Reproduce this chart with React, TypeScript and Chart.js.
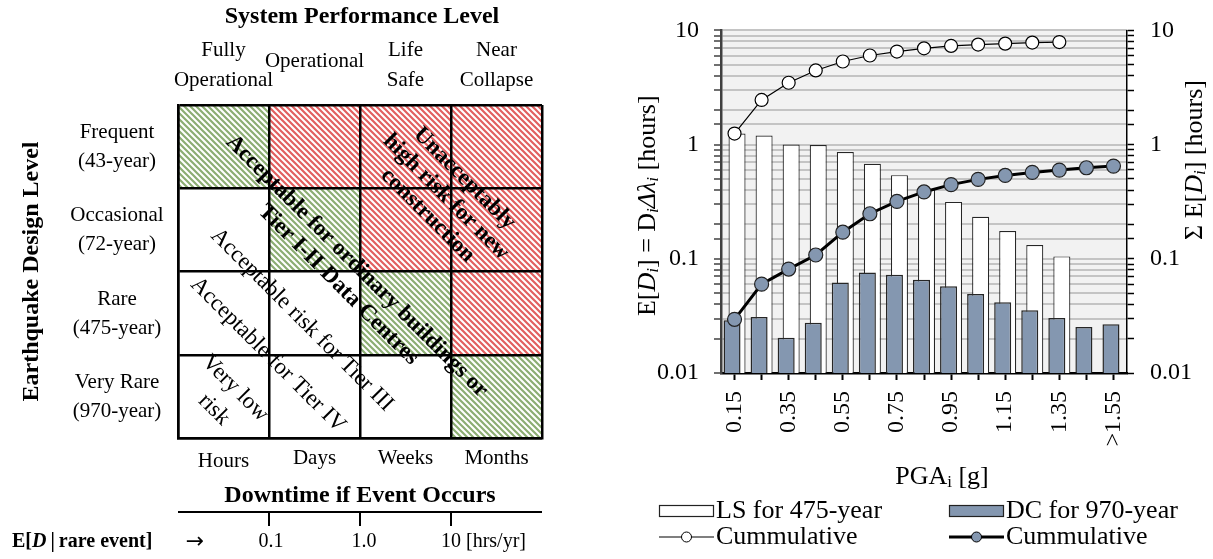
import React, { useEffect, useRef } from 'react';
import { Chart, registerables } from 'chart.js';
Chart.register(...registerables);

const SERIF = '"Liberation Serif", "Times New Roman", serif';

// ---------------- Right chart data ----------------
const pgaLabels = ['0.15', '0.25', '0.35', '0.45', '0.55', '0.65', '0.75', '0.85', '0.95', '1.05', '1.15', '1.25', '1.35', '1.45', '>1.55'];
const lsValues = [1.25, 1.2, 1.0, 0.99, 0.86, 0.68, 0.54, 0.41, 0.315, 0.233, 0.175, 0.132, 0.105, null, null];
const dcValues = [0.029, 0.031, 0.0204, 0.0276, 0.062, 0.076, 0.0726, 0.0657, 0.0574, 0.0493, 0.0417, 0.0355, 0.0303, 0.0253, 0.0267];
const lsCumulative = [1.25, 2.46, 3.48, 4.46, 5.34, 6.03, 6.53, 6.97, 7.31, 7.51, 7.66, 7.82, 7.91];
const dcCumulative = [0.0295, 0.06, 0.0813, 0.108, 0.171, 0.248, 0.318, 0.385, 0.446, 0.496, 0.537, 0.571, 0.598, 0.627, 0.648];
const yMajorTicks = [0.01, 0.1, 1, 10];
const yMajorLabels = ['0.01', '0.1', '1', '10'];
const legendLabels = ['LS for 475-year', 'DC for 970-year', 'Cummulative', 'Cummulative'];

// ---------------- Left matrix data ----------------
const performanceLevels = [['Fully', 'Operational'], ['Operational'], ['Life', 'Safe'], ['Near', 'Collapse']];
const designLevels = [['Frequent', '(43-year)'], ['Occasional', '(72-year)'], ['Rare', '(475-year)'], ['Very Rare', '(970-year)']];
const downtimeLabels = ['Hours', 'Days', 'Weeks', 'Months'];
// G = acceptable (green hatch), R = unacceptable (red hatch), W = white
const riskGrid = [
  ['G', 'R', 'R', 'R'],
  ['W', 'G', 'R', 'R'],
  ['W', 'W', 'G', 'R'],
  ['W', 'W', 'W', 'G'],
];
const expectedDowntimeTicks = ['0.1', '1.0', '10'];
const zoneOrdinary = ['Acceptable for ordinary buildings or', 'Tier I-II Data Centres'];
const zoneUnacceptable = ['Unacceptably', 'high risk for new', 'construction'];
const zoneTier3 = ['Acceptable risk for Tier III'];
const zoneTier4 = ['Acceptable for Tier IV'];
const zoneVeryLow = ['Very low', 'risk'];

type Seg = { t: string; f: string; dy?: number };

function drawRich(ctx: CanvasRenderingContext2D, segs: Seg[], x: number, y: number, align: 'left' | 'center' | 'right', rot = 0) {
  ctx.save();
  ctx.translate(x, y);
  ctx.rotate(rot);
  ctx.textBaseline = 'middle';
  ctx.textAlign = 'left';
  ctx.fillStyle = '#000';
  let w = 0;
  for (const s of segs) { ctx.font = s.f; w += ctx.measureText(s.t).width; }
  let cx = align === 'left' ? 0 : align === 'center' ? -w / 2 : -w;
  for (const s of segs) {
    ctx.font = s.f;
    ctx.fillText(s.t, cx, s.dy || 0);
    cx += ctx.measureText(s.t).width;
  }
  ctx.restore();
}

function drawBlock(ctx: CanvasRenderingContext2D, lines: string[], x: number, y: number, font: string, lh: number, rot: number) {
  ctx.save();
  ctx.translate(x, y);
  ctx.rotate(rot);
  ctx.font = font;
  ctx.fillStyle = '#000';
  ctx.textAlign = 'center';
  ctx.textBaseline = 'middle';
  lines.forEach((l, i) => ctx.fillText(l, 0, (i - (lines.length - 1) / 2) * lh));
  ctx.restore();
}

function makeHatch(color: string): CanvasPattern | string {
  const s = 6;
  const c = document.createElement('canvas');
  c.width = s; c.height = s;
  const g = c.getContext('2d');
  if (!g) return '#fff';
  g.fillStyle = '#ffffff';
  g.fillRect(0, 0, s, s);
  g.strokeStyle = color;
  g.lineWidth = 2.2;
  g.beginPath();
  for (let k = -1; k <= 1; k++) {
    g.moveTo(-1, -1 + k * s);
    g.lineTo(s + 1, s + 1 + k * s);
  }
  g.stroke();
  const p = g.createPattern(c, 'repeat');
  return p || '#fff';
}

function isMajor(v: number) {
  const l = Math.log10(v);
  return Math.abs(l - Math.round(l)) < 1e-6;
}

export default function App() {
  const leftRef = useRef<HTMLCanvasElement>(null);
  const rightRef = useRef<HTMLCanvasElement>(null);

  useEffect(() => {
    const green = makeHatch('#8cad73');
    const red = makeHatch('#e25f5f');
    const fillFor = (k: string) => (k === 'G' ? green : k === 'R' ? red : '#ffffff');

    // ---------- Left: risk matrix ----------
    const leftDecor = {
      id: 'leftDecor',
      afterDraw(chart: any) {
        const ctx: CanvasRenderingContext2D = chart.ctx;
        const xs = chart.scales.x;
        const ys = chart.scales.y;
        const px = (u: number) => xs.getPixelForValue(u);
        const py = (r: number) => ys.getPixelForValue(r - 0.5);
        const a = chart.chartArea;
        const reg = (n: number) => `${n}px ${SERIF}`;
        const bold = (n: number) => `bold ${n}px ${SERIF}`;
        const rot = Math.PI / 4;

        // Title top
        drawRich(ctx, [{ t: 'System Performance Level', f: bold(24) }], (a.left + a.right) / 2 + 2, 17, 'center');
        // Column headers
        performanceLevels.forEach((lines, c) => {
          const x = px(c + 0.5);
          if (lines.length === 2) {
            drawRich(ctx, [{ t: lines[0], f: reg(21) }], x, 50, 'center');
            drawRich(ctx, [{ t: lines[1], f: reg(21) }], x, 80, 'center');
          } else {
            drawRich(ctx, [{ t: lines[0], f: reg(21) }], x, 61, 'center');
          }
        });
        // Row headers
        designLevels.forEach((lines, r) => {
          const y = py(r + 0.5);
          drawRich(ctx, [{ t: lines[0], f: reg(21) }], 117, y - 14, 'center');
          drawRich(ctx, [{ t: lines[1], f: reg(21) }], 117, y + 15, 'center');
        });
        // Y title
        drawRich(ctx, [{ t: 'Earthquake Design Level', f: bold(24) }], 32, (a.top + a.bottom) / 2, 'center', -Math.PI / 2);
        // Downtime labels
        downtimeLabels.forEach((t, c) => {
          drawRich(ctx, [{ t, f: reg(21) }], px(c + 0.5), c === 0 ? a.bottom + 23 : a.bottom + 20, 'center');
        });
        drawRich(ctx, [{ t: 'Downtime if Event Occurs', f: bold(24) }], (a.left + a.right) / 2, a.bottom + 58, 'center');
        // E[D|rare event] axis
        const ly = a.bottom + 74;
        ctx.save();
        ctx.strokeStyle = '#000';
        ctx.lineWidth = 2;
        ctx.beginPath();
        ctx.moveTo(a.left, ly);
        ctx.lineTo(a.right, ly);
        for (let c = 1; c <= 3; c++) {
          ctx.moveTo(px(c), ly);
          ctx.lineTo(px(c), ly + 14);
        }
        ctx.stroke();
        ctx.restore();
        const ty = a.bottom + 104;
        drawRich(ctx, [
          { t: 'E[', f: bold(20) },
          { t: 'D', f: `italic bold 20px ${SERIF}` },
          { t: '\u2009|\u2009rare event]', f: bold(20) },
        ], 12, ty, 'left');
        drawRich(ctx, [{ t: '\u2192', f: '22px "DejaVu Sans", sans-serif' }], 195, ty, 'center');
        drawRich(ctx, [{ t: expectedDowntimeTicks[0], f: reg(20) }], px(1) + 2, ty, 'center');
        drawRich(ctx, [{ t: expectedDowntimeTicks[1], f: reg(20) }], px(2) + 4, ty, 'center');
        ctx.save();
        ctx.font = reg(20);
        const w10 = ctx.measureText(expectedDowntimeTicks[2]).width;
        ctx.restore();
        drawRich(ctx, [{ t: expectedDowntimeTicks[2] + ' [hrs/yr]', f: reg(20) }], px(3) - w10 / 2, ty, 'left');

        // Zone labels
        drawBlock(ctx, zoneOrdinary, px(1.863), py(2.048), bold(23), 26, rot);
        drawBlock(ctx, zoneUnacceptable, px(2.945), py(1.105), bold(23), 26, rot);
        drawBlock(ctx, zoneTier3, px(1.363), py(2.583), reg(23), 26, rot);
        drawBlock(ctx, zoneTier4, px(0.989), py(3.003), reg(23), 26, rot);
        drawBlock(ctx, zoneVeryLow, px(0.511), py(3.531), reg(23), 30, rot);
      },
    };

    const leftChart = new Chart(leftRef.current as HTMLCanvasElement, {
      type: 'bar',
      data: {
        labels: designLevels.map((l) => l.join(' ')),
        datasets: performanceLevels.map((lvl, c) => ({
          label: lvl.join(' '),
          data: designLevels.map(() => 1),
          backgroundColor: riskGrid.map((row) => fillFor(row[c])) as any,
          borderWidth: 0,
          barPercentage: 1,
          categoryPercentage: 1,
        })),
      },
      options: {
        indexAxis: 'y',
        responsive: false,
        animation: false,
        layout: { padding: { left: 178, top: 105, right: 78, bottom: 121 } },
        plugins: { legend: { display: false }, tooltip: { enabled: false } },
        scales: {
          x: {
            type: 'linear',
            stacked: true,
            min: 0,
            max: 4,
            ticks: { display: false, stepSize: 1 },
            grid: { color: '#000', lineWidth: 2.5, drawTicks: false, z: 1 },
            border: { display: true, color: '#000', width: 2.5, z: 2 },
            afterFit: (s: any) => { s.height = 0; },
          },
          y: {
            type: 'category',
            stacked: true,
            ticks: { display: false },
            grid: { color: '#000', lineWidth: 2.5, drawTicks: false, offset: true, z: 1 },
            border: { display: true, color: '#000', width: 2.5, z: 2 },
            afterFit: (s: any) => { s.width = 0; },
          },
        },
      } as any,
      plugins: [leftDecor],
    });

    // ---------- Right: bar + cumulative chart ----------
    const rightDecor = {
      id: 'rightDecor',
      beforeDraw(chart: any) {
        const { ctx, chartArea: a } = chart;
        ctx.save();
        ctx.fillStyle = '#f2f2f2';
        ctx.fillRect(a.left, a.top, a.right - a.left, a.bottom - a.top);
        ctx.restore();
      },
      afterDraw(chart: any) {
        const ctx: CanvasRenderingContext2D = chart.ctx;
        const a = chart.chartArea;
        const F = 26;
        const reg = `${F}px ${SERIF}`;
        const it = `italic ${F}px ${SERIF}`;
        const sub = `italic ${Math.round(F * 0.65)}px ${SERIF}`;
        const subR = `${Math.round(F * 0.65)}px ${SERIF}`;
        // Left title
        drawRich(ctx, [
          { t: 'E[', f: reg },
          { t: 'D', f: it },
          { t: 'i', f: sub, dy: 6 },
          { t: '] = D', f: reg },
          { t: 'i', f: sub, dy: 6 },
          { t: '\u0394\u03bb', f: it },
          { t: 'i', f: sub, dy: 6 },
          { t: ' [hours]', f: reg },
        ], 28, (a.top + a.bottom) / 2 + 4, 'center', -Math.PI / 2);
        // Right title
        drawRich(ctx, [
          { t: '\u03a3 E[', f: reg },
          { t: 'D', f: it },
          { t: 'i', f: sub, dy: 6 },
          { t: '] [hours]', f: reg },
        ], 575, 160, 'center', -Math.PI / 2);
        // X title
        drawRich(ctx, [
          { t: 'PGA', f: reg },
          { t: 'i', f: subR, dy: 6 },
          { t: ' [g]', f: reg },
        ], 322, 477, 'center');

        // Legend
        const ds = chart.data.datasets;
        const cols = [39, 329];
        const rows = [511, 537];
        const symW = 55;
        for (let i = 0; i < 4; i++) {
          const d = ds[i];
          const x0 = cols[i % 2];
          const y0 = rows[Math.floor(i / 2)];
          ctx.save();
          if (d.type === 'bar') {
            ctx.fillStyle = d.backgroundColor;
            ctx.fillRect(x0, y0 - 5.5, symW, 11);
            ctx.strokeStyle = '#222';
            ctx.lineWidth = 1.2;
            ctx.strokeRect(x0 + 0.5, y0 - 5.5, symW - 1, 11);
          } else {
            ctx.strokeStyle = d.borderColor;
            ctx.lineWidth = d.borderWidth;
            ctx.beginPath();
            ctx.moveTo(x0, y0);
            ctx.lineTo(x0 + symW, y0);
            ctx.stroke();
            ctx.beginPath();
            ctx.arc(x0 + symW / 2, y0, 5, 0, Math.PI * 2);
            ctx.fillStyle = d.pointBackgroundColor;
            ctx.fill();
            ctx.lineWidth = 1;
            ctx.strokeStyle = '#000';
            ctx.stroke();
          }
          ctx.restore();
          drawRich(ctx, [{ t: d.label, f: reg }], x0 + symW + 2, y0, 'left');
        }
      },
    };

    const yTick = (v: any) => {
      const n = Number(v);
      if (!isMajor(n)) return '';
      const idx = yMajorTicks.findIndex((m) => Math.abs(m - n) / m < 1e-6);
      return idx >= 0 ? yMajorLabels[idx] : '';
    };

    const rightChart = new Chart(rightRef.current as HTMLCanvasElement, {
      type: 'bar',
      data: {
        labels: pgaLabels,
        datasets: [
          {
            type: 'bar', label: legendLabels[0], data: lsValues as any, yAxisID: 'y', order: 3,
            backgroundColor: '#ffffff', borderColor: '#262626', borderWidth: 1.2,
            categoryPercentage: 0.37, barPercentage: 3.4,
          },
          {
            type: 'bar', label: legendLabels[1], data: dcValues, yAxisID: 'y', order: 2,
            backgroundColor: '#8497b0', borderColor: '#262626', borderWidth: 1.5,
            categoryPercentage: 0.37, barPercentage: 3.4,
          },
          {
            type: 'line', label: legendLabels[2], data: lsCumulative, yAxisID: 'y2', order: 1,
            borderColor: '#000', borderWidth: 1.2, pointRadius: 6.5, pointBackgroundColor: '#ffffff',
            pointBorderColor: '#000', pointBorderWidth: 1.2, tension: 0,
          },
          {
            type: 'line', label: legendLabels[3], data: dcCumulative, yAxisID: 'y2', order: 0,
            borderColor: '#000', borderWidth: 3, pointRadius: 7, pointBackgroundColor: '#8497b0',
            pointBorderColor: '#222', pointBorderWidth: 1.2, tension: 0,
          },
        ] as any,
      },
      options: {
        responsive: false,
        animation: false,
        layout: { padding: { left: 0, right: 0, top: 29, bottom: 0 } },
        plugins: { legend: { display: false }, tooltip: { enabled: false } },
        scales: {
          x: {
            type: 'category',
            offset: true,
            ticks: {
              autoSkip: false, maxRotation: 90, minRotation: 90, padding: 11,
              color: '#000', font: { family: SERIF, size: 24 },
              callback: (_v: any, i: number) => (i % 2 === 0 ? pgaLabels[i] : ''),
            },
            grid: { drawOnChartArea: false, drawTicks: true, tickLength: 7, tickColor: '#000', tickWidth: 2, offset: false },
            border: { color: '#000', width: 2.5 },
            afterFit: (s: any) => { s.height = 186; },
          },
          y: {
            type: 'logarithmic',
            position: 'left',
            min: 0.01,
            max: 10,
            ticks: { autoSkip: false, padding: 15, color: '#000', font: { family: SERIF, size: 24 }, callback: yTick },
            grid: { color: '#c4c4c4', lineWidth: 2, tickColor: '#404040', tickLength: 7, tickWidth: 1.5 },
            border: { color: '#404040', width: 2.5 },
            afterFit: (s: any) => { s.width = 101; },
          },
          y2: {
            type: 'logarithmic',
            position: 'right',
            min: 0.01,
            max: 10,
            ticks: { autoSkip: false, padding: 16, color: '#000', font: { family: SERIF, size: 24 }, callback: yTick },
            grid: { drawOnChartArea: false, tickColor: '#000', tickLength: 7, tickWidth: 1.5 },
            border: { color: '#000', width: 1.5 },
            afterFit: (s: any) => { s.width = 86; },
          },
        },
      } as any,
      plugins: [rightDecor],
    });

    return () => {
      leftChart.destroy();
      rightChart.destroy();
    };
  }, []);

  return (
    <div style={{ position: 'fixed', left: 0, top: 0, width: 1213, height: 559, background: '#fff', overflow: 'hidden' }}>
      <canvas ref={leftRef} width={620} height={559} style={{ position: 'absolute', left: 0, top: 0, width: 620, height: 559 }} />
      <canvas ref={rightRef} width={593} height={559} style={{ position: 'absolute', left: 620, top: 0, width: 593, height: 559 }} />
    </div>
  );
}
